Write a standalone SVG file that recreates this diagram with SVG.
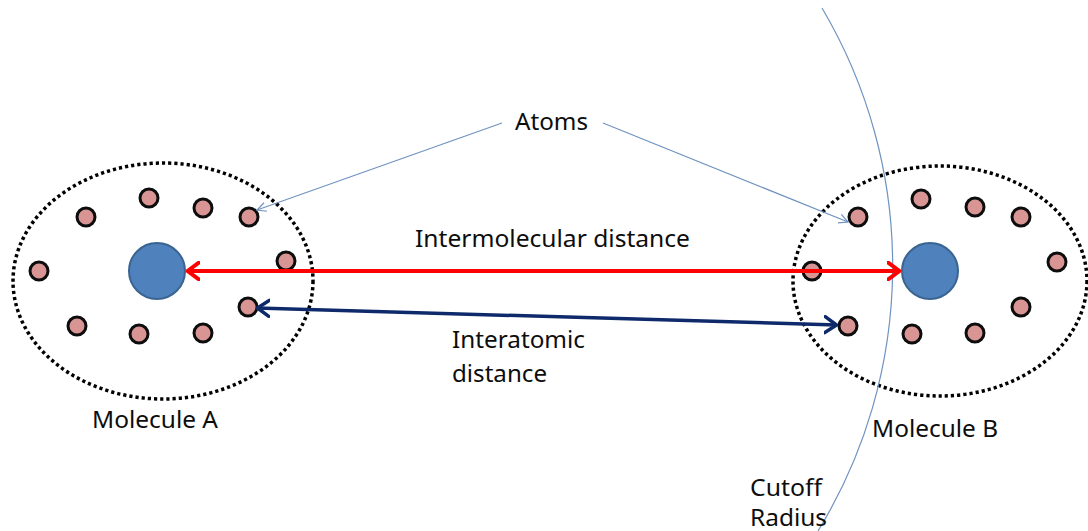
<svg xmlns="http://www.w3.org/2000/svg" width="1088" height="531" viewBox="0 0 1088 531">
  <defs>
    <style>
      .boundary { fill: none; stroke: #000; stroke-width: 3.5; stroke-dasharray: 3.2 3; }
      .atom { fill: #D99594; stroke: #0d0d0d; stroke-width: 3; }
      .core { fill: #4F81BD; stroke: #3A6491; stroke-width: 2; }
      .lbl { font-family: "Noto Sans", "Open Sans", sans-serif; font-size: 23px; fill: #0d0d0d; }
      .pointer { fill: none; stroke: #6F93C0; stroke-width: 1.2; }
      .cutoff { fill: none; stroke: #6F93C0; stroke-width: 1.2; }
    </style>
    <marker id="mRed" viewBox="0 0 14 20" refX="13" refY="10" markerWidth="14" markerHeight="20" markerUnits="userSpaceOnUse" orient="auto-start-reverse">
      <path d="M1,1.5 L12.5,10 L1,18.5" fill="none" stroke="#FF0000" stroke-width="4" stroke-linecap="round" stroke-linejoin="round"/>
    </marker>
    <marker id="mNavy" viewBox="0 0 14 20" refX="13" refY="10" markerWidth="14" markerHeight="20" markerUnits="userSpaceOnUse" orient="auto-start-reverse">
      <path d="M1,2 L12.5,10 L1,18" fill="none" stroke="#0F2A6B" stroke-width="3.5" stroke-linecap="round" stroke-linejoin="round"/>
    </marker>
    <marker id="mThin" viewBox="0 0 12 12" refX="11" refY="6" markerWidth="12" markerHeight="12" markerUnits="userSpaceOnUse" orient="auto">
      <path d="M2,1.5 L11,6 L2,10.5" fill="none" stroke="#6F93C0" stroke-width="1.2"/>
    </marker>
  </defs>

  <rect x="0" y="0" width="1088" height="531" fill="#fff"/>

  <g id="molecule-a">
    <ellipse class="boundary" cx="163" cy="281" rx="150" ry="118"/>
    <circle class="core" cx="157" cy="271" r="28"/>
    <circle class="atom" cx="86" cy="217" r="9"/>
    <circle class="atom" cx="149" cy="198" r="9"/>
    <circle class="atom" cx="203" cy="208" r="9"/>
    <circle class="atom" cx="249" cy="217" r="9"/>
    <circle class="atom" cx="39" cy="271" r="9"/>
    <circle class="atom" cx="286" cy="261" r="9"/>
    <circle class="atom" cx="248" cy="307" r="9"/>
    <circle class="atom" cx="77" cy="326" r="9"/>
    <circle class="atom" cx="139" cy="334" r="9"/>
    <circle class="atom" cx="203" cy="333" r="9"/>
  </g>

  <g id="molecule-b">
    <ellipse class="boundary" cx="940" cy="281" rx="147" ry="115"/>
    <circle class="core" cx="930" cy="271" r="28"/>
    <circle class="atom" cx="858" cy="217" r="9"/>
    <circle class="atom" cx="921" cy="199" r="9"/>
    <circle class="atom" cx="975" cy="207" r="9"/>
    <circle class="atom" cx="1021" cy="217" r="9"/>
    <circle class="atom" cx="812" cy="271" r="9"/>
    <circle class="atom" cx="1057" cy="262" r="9"/>
    <circle class="atom" cx="1021" cy="307" r="9"/>
    <circle class="atom" cx="848" cy="326" r="9"/>
    <circle class="atom" cx="912" cy="334" r="9"/>
    <circle class="atom" cx="975" cy="333" r="9"/>
  </g>

  <g id="cutoff-radius">
    <path class="cutoff" d="M822,8 A507,507 0 0 1 818,531"/>
  </g>

  <g id="connectors">
    <line x1="187" y1="271" x2="900" y2="271" stroke="#FF0000" stroke-width="4" marker-start="url(#mRed)" marker-end="url(#mRed)"/>
    <line x1="257" y1="308" x2="837" y2="325" stroke="#0F2A6B" stroke-width="3.5" marker-start="url(#mNavy)" marker-end="url(#mNavy)"/>
    <line class="pointer" x1="502" y1="123" x2="257" y2="210" marker-end="url(#mThin)"/>
    <line class="pointer" x1="603" y1="123" x2="848" y2="222" marker-end="url(#mThin)"/>
  </g>

  <g id="labels">
    <text class="lbl" x="515" y="130" textLength="73" lengthAdjust="spacingAndGlyphs">Atoms</text>
    <text class="lbl" x="415" y="247" textLength="275" lengthAdjust="spacingAndGlyphs">Intermolecular distance</text>
    <text class="lbl" x="452" y="348" textLength="133" lengthAdjust="spacingAndGlyphs">Interatomic</text>
    <text class="lbl" x="452" y="382" textLength="95" lengthAdjust="spacingAndGlyphs">distance</text>
    <text class="lbl" x="92" y="428" textLength="126" lengthAdjust="spacingAndGlyphs">Molecule A</text>
    <text class="lbl" x="872" y="437" textLength="126" lengthAdjust="spacingAndGlyphs">Molecule B</text>
    <text class="lbl" x="750" y="496" textLength="72" lengthAdjust="spacingAndGlyphs">Cutoff</text>
    <text class="lbl" x="750" y="526" textLength="77" lengthAdjust="spacingAndGlyphs">Radius</text>
  </g>
</svg>
